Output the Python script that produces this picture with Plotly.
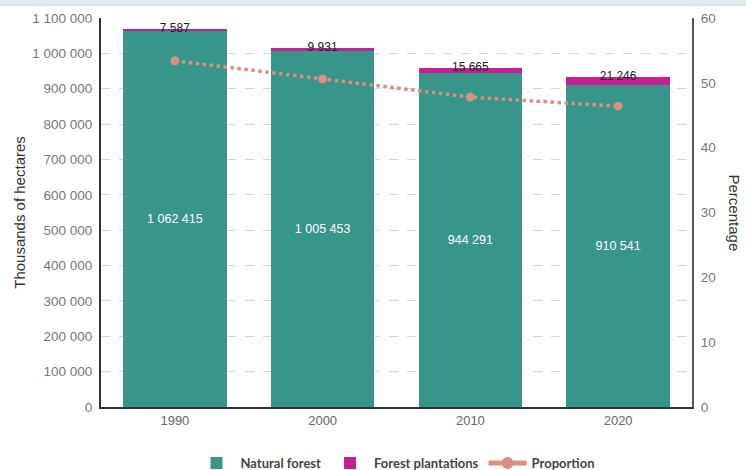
import plotly.graph_objects as go

years = ["1990", "2000", "2010", "2020"]
natural_forest = [1062415, 1005453, 944291, 910541]
forest_plantations = [7587, 9931, 15665, 21246]
proportion = [53.4, 50.6, 47.8, 46.4]
left_ticks = [0, 100000, 200000, 300000, 400000, 500000, 600000, 700000, 800000, 900000, 1000000, 1100000]
right_ticks = [0, 10, 20, 30, 40, 50, 60]

TEAL = "#37958a"
MAGENTA = "#c4208f"
SALMON = "#d98f82"

totals = [a + b for a, b in zip(natural_forest, forest_plantations)]


def fmt(v):
    return f"{v:,}".replace(",", " ")


fig = go.Figure()
fig.add_trace(go.Bar(
    x=years, y=natural_forest, name="Natural forest", marker_color=TEAL,
    marker_line_width=0,
    text=[fmt(v) for v in natural_forest], textposition="inside",
    insidetextanchor="middle", textfont=dict(color="white", size=12.5, family="Liberation Sans, Arial"),
    hoverinfo="skip",
))
fig.add_trace(go.Bar(
    x=years, y=forest_plantations, name="Forest plantations", marker_color=MAGENTA,
    marker_line_width=0, hoverinfo="skip",
))
fig.add_trace(go.Scatter(
    x=years, y=totals, mode="text", text=[fmt(v) for v in forest_plantations],
    textposition="middle center", textfont=dict(color="#222", size=12, family="Liberation Sans, Arial"),
    showlegend=False, hoverinfo="skip",
))
fig.add_trace(go.Scatter(
    x=years, y=proportion, name="Proportion", mode="lines+markers", yaxis="y2",
    line=dict(color=SALMON, width=3.5, dash="dot"),
    marker=dict(color=SALMON, size=9), hoverinfo="skip", showlegend=False,
))
# legend-only entry with solid line, as in the reference legend
fig.add_trace(go.Scatter(
    x=[None], y=[None], name="Proportion", mode="lines+markers", yaxis="y2",
    line=dict(color=SALMON, width=2),
    marker=dict(color=SALMON, size=11), hoverinfo="skip",
))

W, H = 746, 470
ml, mr, mt, mb = 101, 54, 18, 63
ph = H - mt - mb
pw = W - ml - mr

fig.update_layout(
    width=W, height=H, barmode="stack", bargap=0.3,
    separators=". ",
    margin=dict(l=ml, r=mr, t=mt, b=mb, autoexpand=False),
    paper_bgcolor="white", plot_bgcolor="white",
    font=dict(family="Liberation Sans, Arial", color="#666"),
    xaxis=dict(
        showline=True, linecolor="#333", linewidth=2, ticks="",
        tickfont=dict(size=13, color="#666"), showgrid=False,
    ),
    yaxis=dict(
        range=[0, 1100000], tickvals=left_ticks, tickformat=",d",
        showline=True, linecolor="#333", linewidth=2,
        ticks="", tickfont=dict(size=13.5, color="#777"), ticklabelstandoff=4,
        showgrid=True, gridcolor="#d6d6d6", griddash="dash", gridwidth=1,
        title=dict(text="Thousands of hectares", font=dict(size=15, color="#333"), standoff=3),
        zeroline=False,
    ),
    yaxis2=dict(
        range=[0, 60], tickvals=right_ticks, overlaying="y", side="right",
        showline=True, linecolor="#555", linewidth=2, ticks="",
        tickfont=dict(size=13.5, color="#777"), ticklabelstandoff=4,
        showgrid=False, zeroline=False,
    ),
    legend=dict(
        orientation="h", x=0.5, xanchor="center", y=-(463 - (H - mb)) / ph,
        yanchor="middle", font=dict(size=13, color="#444", family="Lato, Liberation Sans", weight="bold"),
        itemsizing="constant", traceorder="normal", itemwidth=38,
    ),
    annotations=[dict(
        text="Percentage", textangle=90, xref="paper", yref="paper",
        x=1 + (734 - (W - mr)) / pw, y=0.5, xanchor="center", yanchor="middle",
        showarrow=False, font=dict(size=15, color="#333"),
    )],
    shapes=[dict(
        type="rect", xref="paper", yref="paper", x0=-ml / pw, x1=1 + mr / pw,
        y0=1 + (mt - 6) / ph, y1=1 + mt / ph, fillcolor="#dfe8f3", line_width=0, layer="below",
    )],
)

fig.write_html("out.html")
